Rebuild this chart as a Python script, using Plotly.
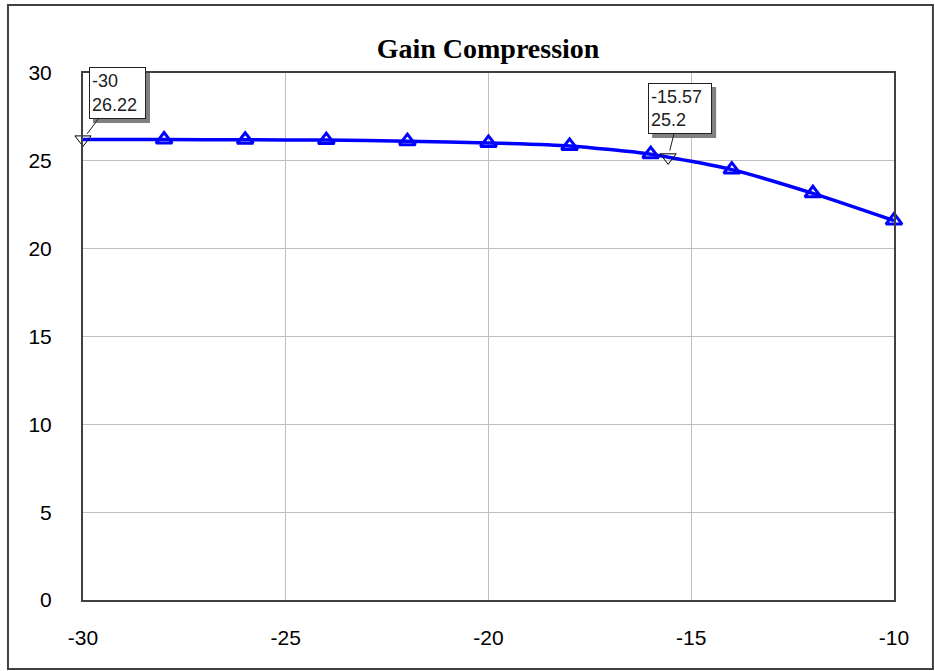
import plotly.graph_objects as go

# Data
input_power = [-30, -28, -26, -24, -22, -20, -18, -16, -14, -12, -10]
gain = [26.22, 26.21, 26.2, 26.18, 26.12, 26.02, 25.85, 25.38, 24.5, 23.15, 21.6]

marker_x = [-30, -15.57]
marker_y = [26.22, 25.2]
marker_text = ["-30<br>26.22", "-15.57<br>25.2"]

x_ticks = [-30, -25, -20, -15, -10]
y_ticks = [0, 5, 10, 15, 20, 25, 30]

BLUE = "#0000ff"

fig = go.Figure()
fig.add_trace(go.Scatter(
    x=input_power, y=gain, mode="lines",
    line=dict(color=BLUE, width=3.5, shape="spline", smoothing=0.6),
    cliponaxis=False, showlegend=False, hoverinfo="skip"))
fig.add_trace(go.Scatter(
    x=input_power[1:], y=gain[1:], mode="markers",
    marker=dict(symbol="triangle-up-open", size=14, color=BLUE,
                line=dict(color=BLUE, width=3)),
    cliponaxis=False, showlegend=False))
fig.add_trace(go.Scatter(
    x=marker_x, y=marker_y, mode="markers",
    marker=dict(symbol="triangle-down-open", size=14, color="black",
                line=dict(color="#202020", width=1)),
    cliponaxis=False, showlegend=False))

# annotation boxes (offsets in px, box sizes in px)
offsets = [(34.5, -46.5), (12, -48.8)]
box_w = [57, 64]
box_h = [52, 51]

annotations = []
shapes = []
for (xv, yv, txt, (ax, ay), w, h) in zip(marker_x, marker_y, marker_text, offsets, box_w, box_h):
    # shadow
    shapes.append(dict(
        type="rect", xref="x", yref="y", xsizemode="pixel", ysizemode="pixel",
        xanchor=xv, yanchor=yv,
        x0=ax - w / 2 + 4, x1=ax + w / 2 + 4,
        y0=-(ay + h / 2 + 4), y1=-(ay - h / 2 + 4),
        fillcolor="#808080", line=dict(width=0), layer="above"))
    annotations.append(dict(
        x=xv, y=yv, xref="x", yref="y", text=txt, showarrow=True,
        ax=ax, ay=ay, axref="pixel", ayref="pixel",
        arrowhead=0, arrowwidth=1, arrowcolor="#202020", standoff=7,
        align="left", xanchor="center", yanchor="middle",
        width=w - 6, height=h - 6, borderpad=2,
        bgcolor="white", bordercolor="#202020", borderwidth=1,
        font=dict(family="Liberation Sans", size=18, color="#202020")))

# outer border
shapes.append(dict(type="rect", xref="paper", yref="paper",
                   x0=-0.0925, x1=1.048, y0=-0.131, y1=1.129,
                   line=dict(color="#404040", width=2), layer="below"))

fig.update_layout(
    width=935, height=671,
    margin=dict(l=83, r=41, t=73, b=71),
    paper_bgcolor="white", plot_bgcolor="white",
    title=dict(text="<b>Gain Compression</b>", x=0.522, xanchor="center",
               y=1 - 48 / 671, yanchor="middle", yref="container",
               font=dict(family="Liberation Serif", size=28, color="black")),
    shapes=shapes, annotations=annotations,
    showlegend=False,
)
fig.update_xaxes(
    range=[-30, -10], tickvals=x_ticks, ticktext=[str(v) for v in x_ticks],
    showgrid=True, gridcolor="#c0c0c0", gridwidth=1, zeroline=False,
    showline=True, mirror=True, linecolor="#404040", linewidth=2,
    ticks="", ticklabelstandoff=18,
    tickfont=dict(family="Liberation Sans", size=21, color="black"))
fig.update_yaxes(
    range=[0, 30], tickvals=y_ticks, ticktext=[str(v) for v in y_ticks],
    showgrid=True, gridcolor="#c0c0c0", gridwidth=1, zeroline=False,
    showline=True, mirror=True, linecolor="#404040", linewidth=2,
    ticks="", ticklabelstandoff=25,
    tickfont=dict(family="Liberation Sans", size=21, color="black"))

fig.write_html("out.html", config={"displayModeBar": False},
               post_script="document.body.style.margin='0px';")
